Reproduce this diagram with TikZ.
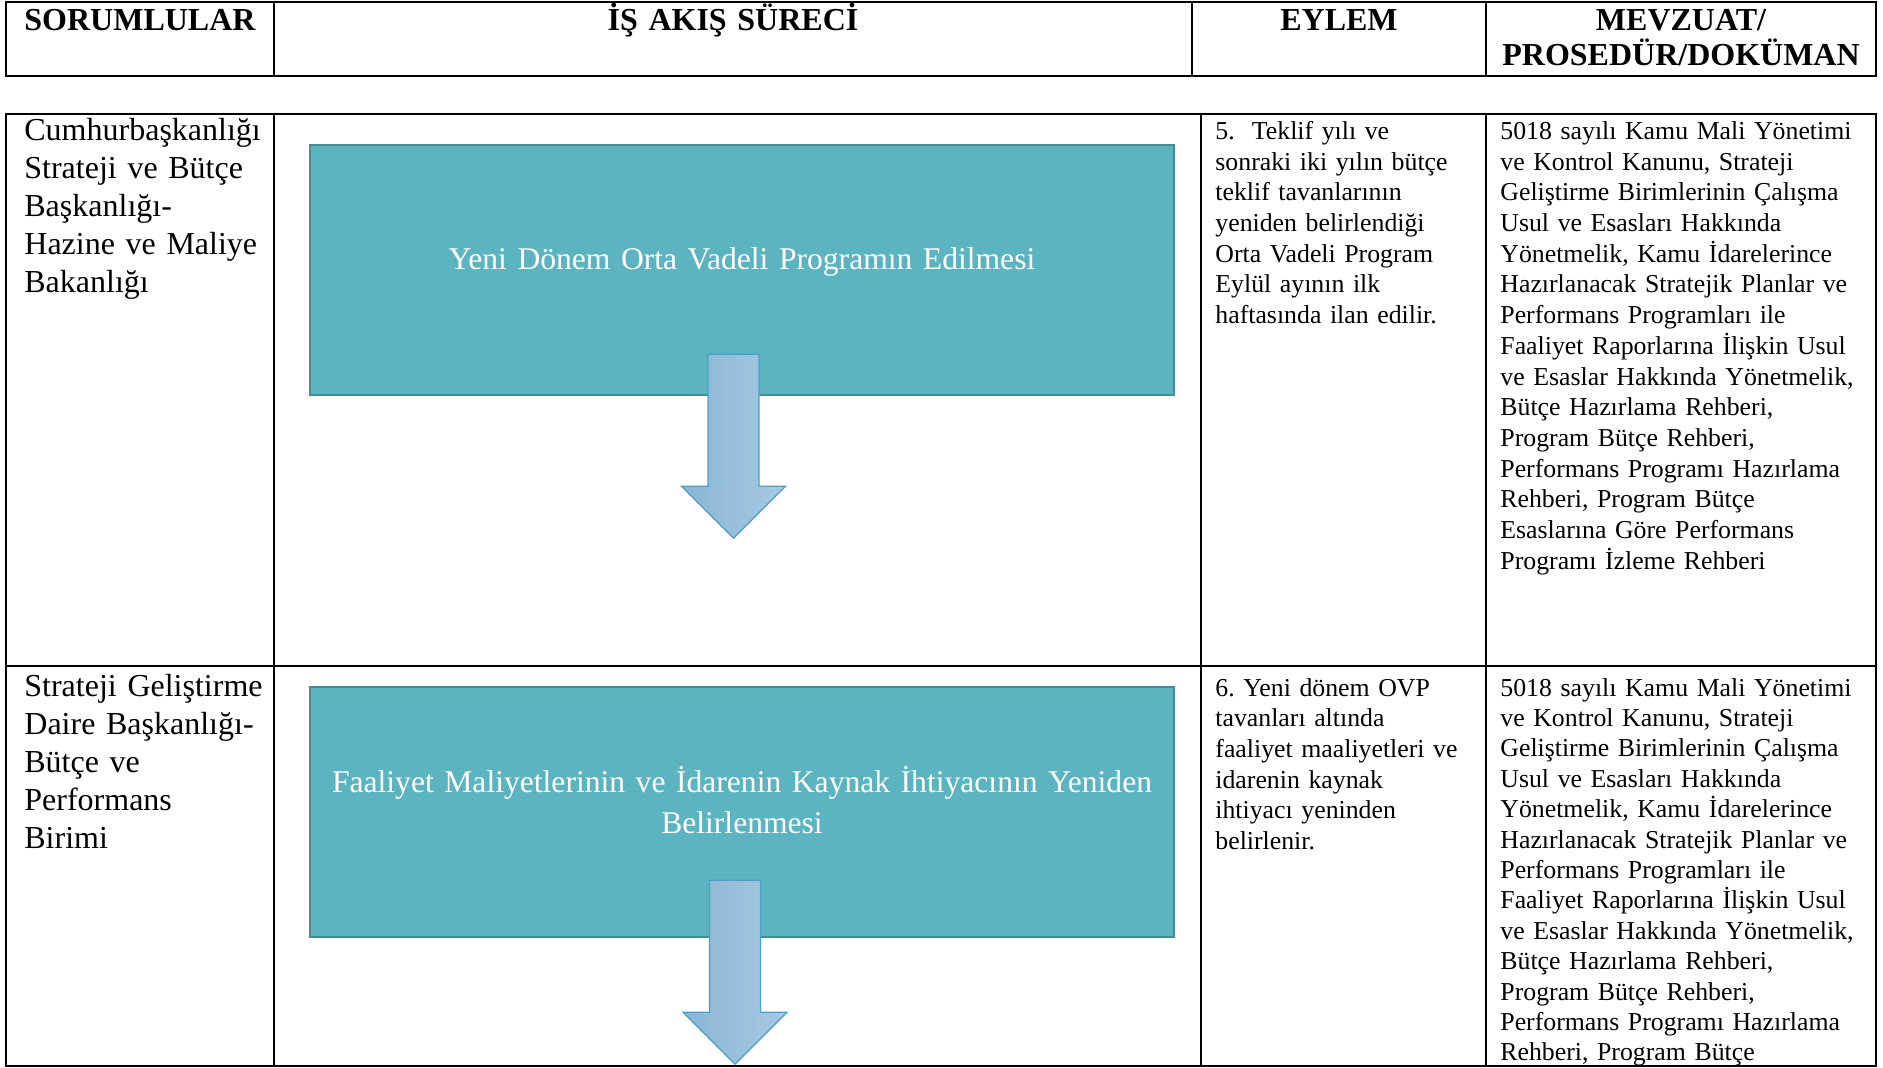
\documentclass[tikz,border=0pt]{standalone}
\usepackage{fontspec}
\setmainfont{Liberation Serif}
\usetikzlibrary{calc, positioning}
\frenchspacing

\definecolor{boxteal}{HTML}{5BB4C0}
\definecolor{boxedge}{HTML}{468C94}
\definecolor{arrowleft}{HTML}{8AB5D6}
\definecolor{arrowright}{HTML}{A8C9E2}
\definecolor{arrowedge}{HTML}{4BA0C8}

\tikzset{
  rule/.style={line width=1.4pt},
  headtext/.style={font=\fontsize{16}{17.5}\selectfont\bfseries, text width=190pt, align=center, anchor=base, inner sep=0pt},
  unittext/.style={font=\fontsize{16}{18.9}\selectfont, text width=128pt, align=left, anchor=base west, inner sep=0pt},
  celltext/.style={font=\fontsize{12.9}{15.35}\selectfont, text width=190pt, align=left, anchor=base west, inner sep=0pt},
  stepbox/.style={draw=boxedge, line width=1.2pt, fill=boxteal, text=white, minimum width=432pt, minimum height=125pt,
    text width=420pt, align=center, inner sep=0pt, font=\fontsize{15.8}{20.4}\selectfont},
  flowarrow/.style={draw=arrowedge, line width=0.6pt, left color=arrowleft, right color=arrowright}
}

\begin{document}
\begin{tikzpicture}[x=0.5pt, y=-0.5pt]

\useasboundingbox (0,0) rectangle (1883,1068);

% Header of the table
\draw[rule] (6,2) rectangle (1876,76);
\foreach \x in {274,1192,1486}
  \draw[rule] (\x,2) -- (\x,76);

\node[headtext] (hsorumlu) at (140,31) {SORUMLULAR};
\node[headtext] (hsurec) at (733,31) {İŞ AKIŞ SÜRECİ};
\node[headtext] (heylem) at (1339,31) {EYLEM};
\node[headtext] (hmevzuat) at (1681,31) {MEVZUAT/\\PROSEDÜR/DOKÜMAN};

% Body of the table
\draw[rule] (6,114) rectangle (1876,1066);
\foreach \x in {274,1201,1486}
  \draw[rule] (\x,114) -- (\x,1066);
\draw[rule] (6,666) -- (1876,666);

%% First row

\node[unittext] (unit1) at (24,141) {Cumhurbaşkanlığı\\Strateji ve Bütçe\\Başkanlığı-\\Hazine ve Maliye\\Bakanlığı};

% the text sits a little above the middle of the box
\node[stepbox] (box1) at (742,270) {Yeni Dönem Orta Vadeli Programın Edilmesi\par\vspace*{8pt}};

\node[celltext] (eylem1) at (1215,139.5) {5.~ Teklif yılı ve\\sonraki iki yılın bütçe\\teklif tavanlarının\\yeniden belirlendiği\\Orta Vadeli Program\\Eylül ayının ilk\\haftasında ilan edilir.};

\node[celltext] (mevzuat1) at (1500,139.5) {5018 sayılı Kamu Mali Yönetimi\\ve Kontrol Kanunu, Strateji\\Geliştirme Birimlerinin Çalışma\\Usul ve Esasları Hakkında\\Yönetmelik, Kamu İdarelerince\\Hazırlanacak Stratejik Planlar ve\\Performans Programları ile\\Faaliyet Raporlarına İlişkin Usul\\ve Esaslar Hakkında Yönetmelik,\\Bütçe Hazırlama Rehberi,\\Program Bütçe Rehberi,\\Performans Programı Hazırlama\\Rehberi, Program Bütçe\\Esaslarına Göre Performans\\Programı İzleme Rehberi};

%% Second row

\node[unittext] (unit2) at (24,697) {Strateji Geliştirme\\Daire Başkanlığı-\\Bütçe ve\\Performans\\Birimi};

\node[stepbox] (box2) at (742,812) {Faaliyet Maliyetlerinin ve İdarenin Kaynak İhtiyacının Yeniden\\Belirlenmesi\par\vspace*{12pt}};

\node[celltext] (eylem2) at (1215,696) {6. Yeni dönem OVP\\tavanları altında\\faaliyet maaliyetleri ve\\idarenin kaynak\\ihtiyacı yeninden\\belirlenir.};

\node[celltext, font=\fontsize{12.9}{15.2}\selectfont] (mevzuat2) at (1500,696) {5018 sayılı Kamu Mali Yönetimi\\ve Kontrol Kanunu, Strateji\\Geliştirme Birimlerinin Çalışma\\Usul ve Esasları Hakkında\\Yönetmelik, Kamu İdarelerince\\Hazırlanacak Stratejik Planlar ve\\Performans Programları ile\\Faaliyet Raporlarına İlişkin Usul\\ve Esaslar Hakkında Yönetmelik,\\Bütçe Hazırlama Rehberi,\\Program Bütçe Rehberi,\\Performans Programı Hazırlama\\Rehberi, Program Bütçe};

% Block arrows leaving the boxes (top centre of the shaft)
\coordinate (top1) at ($(box1.south)+(-8.5,-42)$);
\coordinate (top2) at ($(box2.south)+(-7,-58)$);

\foreach \t in {top1,top2}
  \draw[flowarrow]
       ($(\t)+(-25.5,0)$) -- ($(\t)+(25.5,0)$)
    -- ($(\t)+(25.5,132)$) -- ($(\t)+(52,132)$)
    -- ($(\t)+(0,184)$)
    -- ($(\t)+(-52,132)$) -- ($(\t)+(-25.5,132)$) -- cycle;

\end{tikzpicture}
\end{document}
